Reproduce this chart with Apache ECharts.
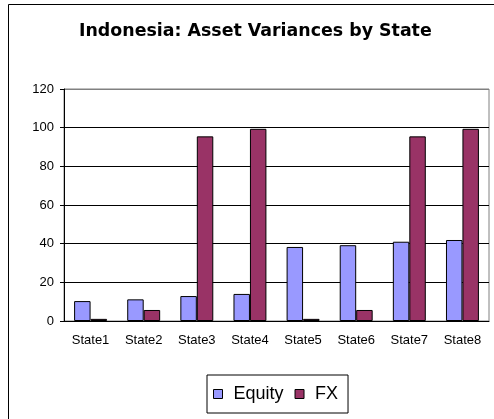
<!DOCTYPE html>
<html>
<head>
<meta charset="utf-8">
<script src="https://cdn.jsdelivr.net/npm/echarts@6/dist/echarts.min.js"></script>
<style>
  html, body { margin: 0; padding: 0; background: #fff; }
  #chart { width: 494px; height: 419px; }
</style>
</head>
<body>
<div id="chart"></div>
<script>
// data
var states = ['State1', 'State2', 'State3', 'State4', 'State5', 'State6', 'State7', 'State8']
var equity = [10.3, 11.2, 12.9, 14, 38.3, 39.2, 41, 41.9]
var fx = [1.1, 5.7, 95.5, 99.4, 1.1, 5.7, 95.5, 99.4]
var seriesNames = ['Equity', 'FX']

var chart = echarts.init(document.getElementById('chart'))

var option = {
  animation: false,
  backgroundColor: '#fff',
  title: {
    text: 'Indonesia: Asset Variances by State',
    left: 79,
    top: 23,
    padding: 0,
    textStyle: { fontFamily: 'DejaVu Sans', fontSize: 17.4, fontWeight: 'bold', color: '#000' }
  },
  // outer chart border, runs off the right and bottom of the picture
  graphic: [{
    type: 'rect',
    shape: { x: 8.5, y: 4.5, width: 600, height: 500 },
    style: { fill: null, stroke: '#000', lineWidth: 1 },
    silent: true
  }],
  legend: {
    data: seriesNames,
    left: 207,
    top: 375,
    padding: [10, 10, 10, 6],
    borderColor: '#000',
    borderWidth: 1,
    itemWidth: 9,
    itemHeight: 9,
    itemGap: 11,
    icon: 'rect',
    itemStyle: { borderColor: '#000', borderWidth: 1 },
    textStyle: { fontFamily: 'Liberation Sans, Arial', fontSize: 18, color: '#000', padding: [0, 0, 0, 6] }
  },
  grid: {
    left: 64, top: 89, right: 5, bottom: 98,
    show: true, borderColor: '#808080', borderWidth: 1
  },
  xAxis: {
    type: 'category',
    data: states,
    axisLine: { lineStyle: { color: '#000' } },
    axisTick: { length: 5, lineStyle: { color: '#000' } },
    axisLabel: { fontFamily: 'Liberation Sans, Arial', fontSize: 13, color: '#000', margin: 13 }
  },
  yAxis: {
    type: 'value',
    min: 0, max: 120, interval: 20,
    axisLine: { show: true, lineStyle: { color: '#000' } },
    axisTick: { show: true, length: 4, lineStyle: { color: '#000' } },
    axisLabel: { fontFamily: 'Liberation Sans, Arial', fontSize: 13, color: '#000', margin: 10 },
    splitLine: { lineStyle: { color: ['#000', '#000', '#000', '#000', '#000', '#000', '#808080'] } }
  },
  series: [
    {
      name: seriesNames[0], type: 'bar', data: equity,
      barGap: '0%', barCategoryGap: '38%',
      itemStyle: { color: '#9999FF', borderColor: '#000', borderWidth: 1 }
    },
    {
      name: seriesNames[1], type: 'bar', data: fx,
      itemStyle: { color: '#993366', borderColor: '#000', borderWidth: 1 }
    }
  ]
}

chart.setOption(option)
</script>
</body>
</html>
